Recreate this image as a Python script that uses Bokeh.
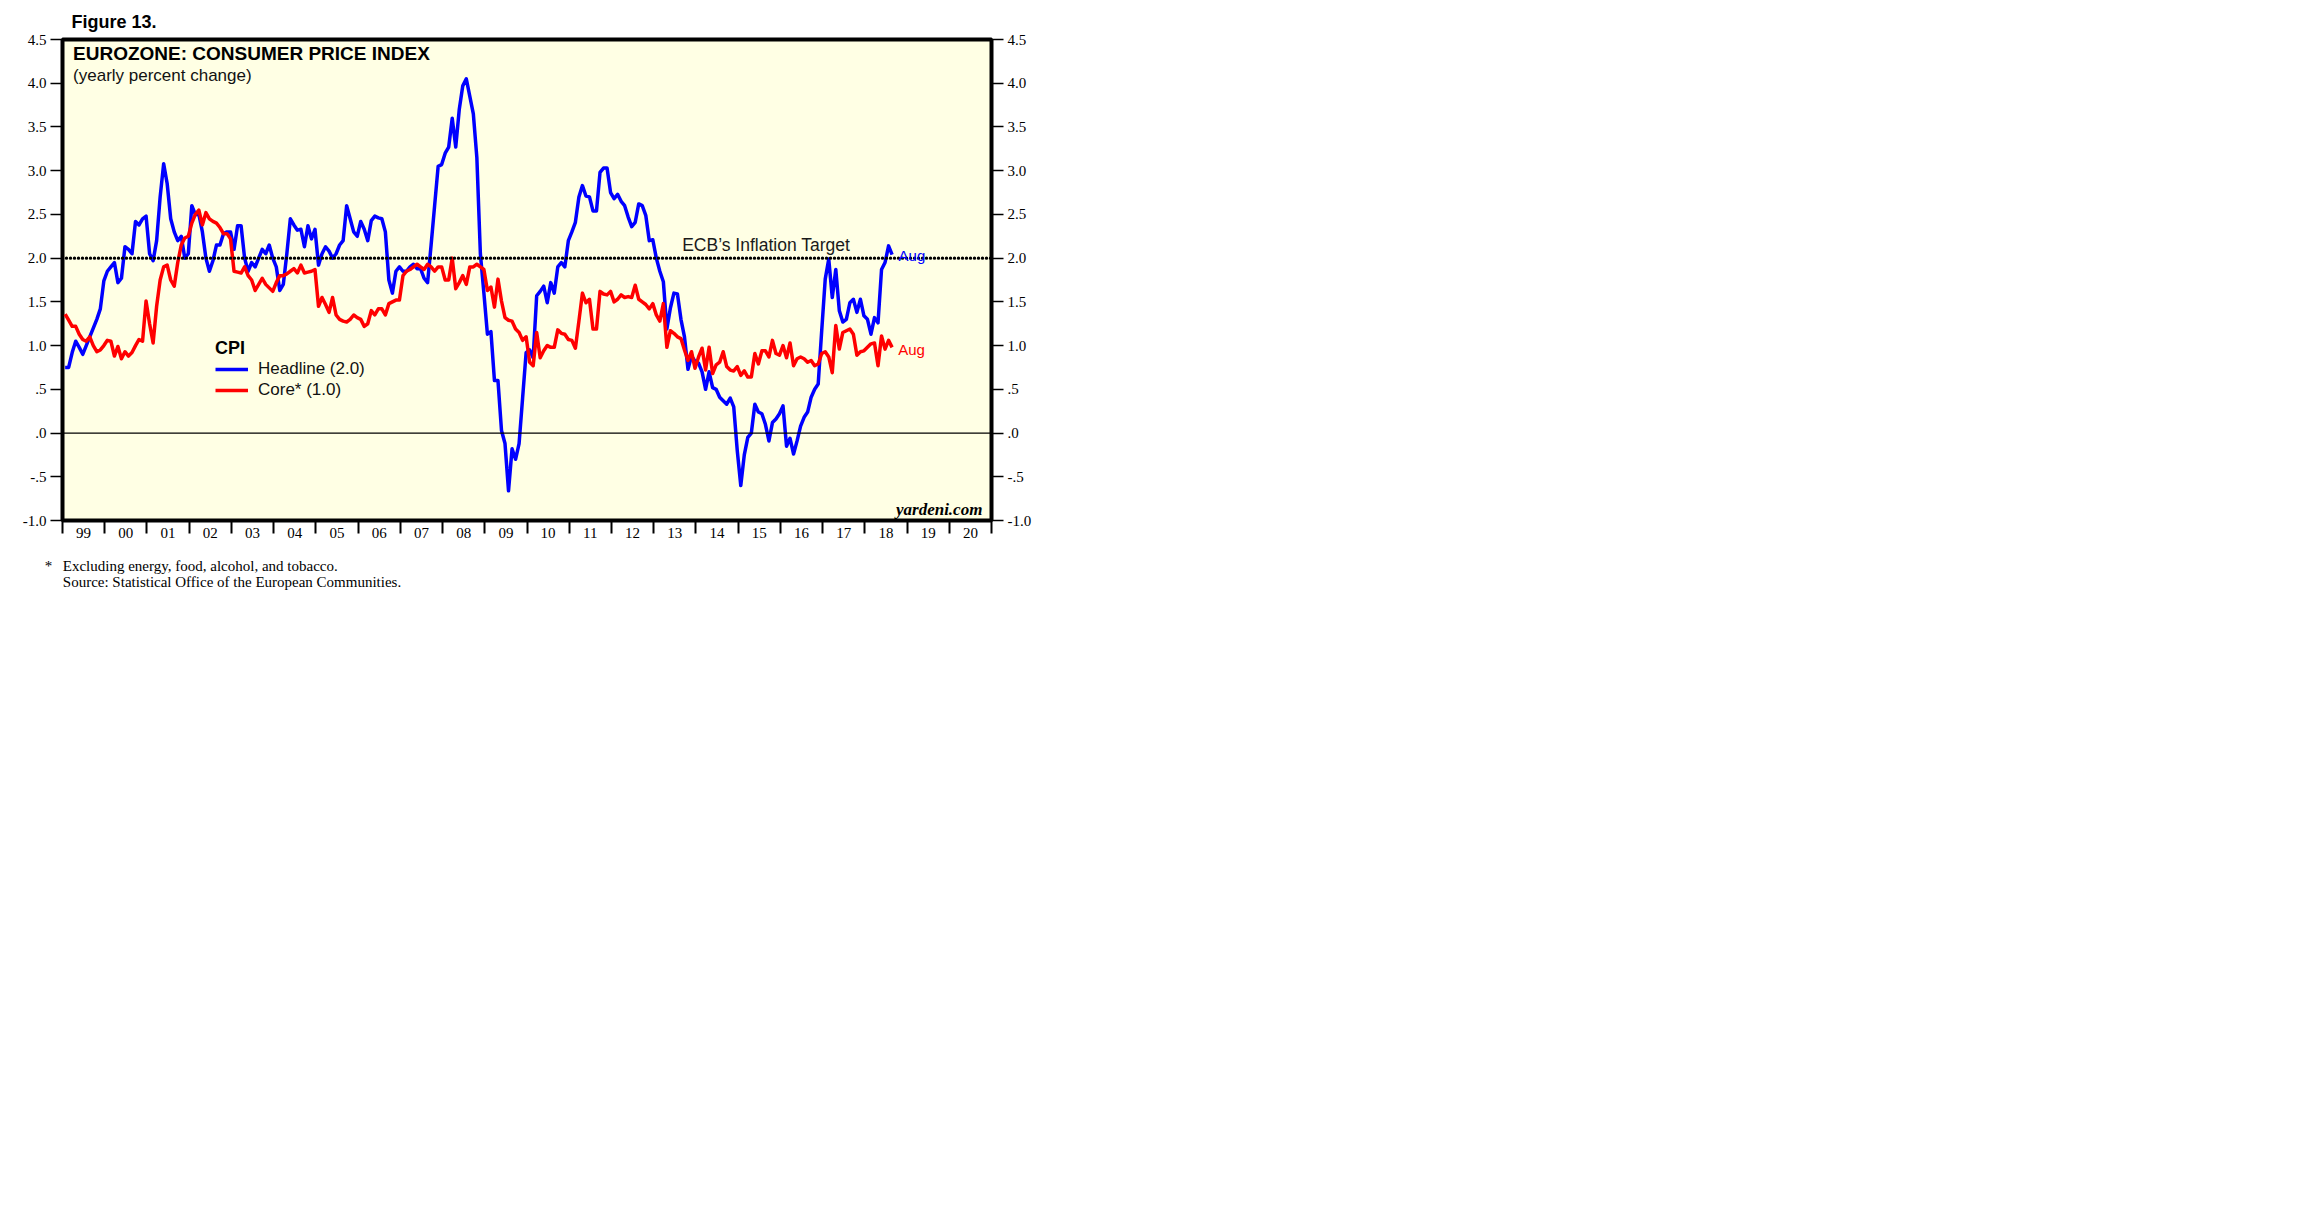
from bokeh.plotting import figure
from bokeh.models import (Range1d, LinearAxis, FixedTicker, Span, Label, Legend,
                          LegendItem, ColumnDataSource, Title)
from bokeh.embed import file_html
from bokeh.resources import INLINE

# ---------------- data (monthly, Jan 1999 - Aug 2018) ----------------
START_YEAR = 1999
HEADLINE = [
    0.75, 0.75, 0.92, 1.05, 0.98, 0.90, 1.00, 1.10, 1.20, 1.30, 1.42, 1.74,   # 1999
    1.85, 1.90, 1.95, 1.72, 1.77, 2.13, 2.10, 2.05, 2.42, 2.38, 2.45, 2.48,   # 2000
    2.05, 1.97, 2.20, 2.70, 3.08, 2.85, 2.45, 2.30, 2.20, 2.25, 2.00, 2.05,   # 2001
    2.60, 2.50, 2.50, 2.30, 2.00, 1.85, 1.97, 2.15, 2.15, 2.28, 2.30, 2.30,   # 2002
    2.10, 2.37, 2.37, 2.00, 1.85, 1.95, 1.90, 2.00, 2.10, 2.05, 2.15, 2.00,   # 2003
    1.90, 1.63, 1.70, 2.05, 2.45, 2.38, 2.32, 2.33, 2.13, 2.37, 2.22, 2.33,   # 2004
    1.92, 2.05, 2.13, 2.08, 2.00, 2.05, 2.15, 2.20, 2.60, 2.45, 2.30, 2.25,   # 2005
    2.42, 2.33, 2.20, 2.43, 2.48, 2.46, 2.45, 2.30, 1.75, 1.60, 1.85, 1.90,   # 2006
    1.85, 1.85, 1.90, 1.93, 1.88, 1.88, 1.77, 1.72, 2.15, 2.60, 3.05, 3.07,   # 2007
    3.20, 3.27, 3.60, 3.27, 3.70, 3.97, 4.05, 3.85, 3.65, 3.15, 2.05, 1.60,   # 2008
    1.13, 1.16, 0.60, 0.60, 0.03, -0.12, -0.66, -0.18, -0.30, -0.12, 0.40, 0.92,  # 2009
    0.95, 0.86, 1.57, 1.62, 1.68, 1.49, 1.72, 1.60, 1.90, 1.95, 1.90, 2.20,   # 2010
    2.30, 2.41, 2.70, 2.83, 2.71, 2.70, 2.54, 2.54, 2.98, 3.03, 3.03, 2.75,   # 2011
    2.68, 2.73, 2.65, 2.60, 2.47, 2.36, 2.41, 2.62, 2.60, 2.49, 2.20, 2.21,   # 2012
    2.00, 1.85, 1.73, 1.19, 1.43, 1.60, 1.59, 1.30, 1.10, 0.73, 0.88, 0.82,   # 2013
    0.80, 0.70, 0.50, 0.70, 0.52, 0.50, 0.41, 0.37, 0.33, 0.40, 0.30, -0.20,  # 2014
    -0.60, -0.25, -0.05, 0.00, 0.33, 0.24, 0.22, 0.10, -0.09, 0.12, 0.16, 0.22,  # 2015
    0.31, -0.15, -0.06, -0.24, -0.09, 0.08, 0.18, 0.24, 0.41, 0.50, 0.56, 1.17,  # 2016
    1.76, 1.99, 1.55, 1.87, 1.40, 1.27, 1.30, 1.49, 1.53, 1.38, 1.53, 1.34,   # 2017
    1.30, 1.13, 1.32, 1.26, 1.87, 1.95, 2.14, 2.04,                           # 2018
]
CORE = [
    1.36, 1.29, 1.22, 1.22, 1.13, 1.07, 1.05, 1.10, 1.00, 0.93, 0.95, 1.00,   # 1999
    1.06, 1.05, 0.88, 0.99, 0.85, 0.93, 0.88, 0.92, 1.00, 1.07, 1.05, 1.51,   # 2000
    1.25, 1.03, 1.45, 1.75, 1.90, 1.92, 1.75, 1.68, 1.95, 2.15, 2.23, 2.25,   # 2001
    2.40, 2.50, 2.55, 2.38, 2.52, 2.45, 2.42, 2.40, 2.35, 2.28, 2.28, 2.22,   # 2002
    1.85, 1.84, 1.83, 1.90, 1.80, 1.75, 1.63, 1.70, 1.77, 1.70, 1.66, 1.62,   # 2003
    1.72, 1.80, 1.80, 1.82, 1.85, 1.88, 1.83, 1.92, 1.83, 1.84, 1.85, 1.87,   # 2004
    1.45, 1.55, 1.47, 1.38, 1.55, 1.35, 1.30, 1.28, 1.27, 1.30, 1.35, 1.32,   # 2005
    1.30, 1.22, 1.25, 1.40, 1.35, 1.42, 1.42, 1.35, 1.48, 1.50, 1.52, 1.52,   # 2006
    1.80, 1.85, 1.87, 1.90, 1.93, 1.90, 1.87, 1.93, 1.90, 1.85, 1.90, 1.90,   # 2007
    1.75, 1.75, 2.00, 1.65, 1.72, 1.80, 1.70, 1.90, 1.90, 1.93, 1.90, 1.87,   # 2008
    1.63, 1.67, 1.44, 1.76, 1.51, 1.32, 1.29, 1.28, 1.19, 1.15, 1.06, 1.10,   # 2009
    0.81, 0.77, 1.15, 0.86, 0.94, 1.00, 0.98, 0.98, 1.18, 1.14, 1.13, 1.07,   # 2010
    1.06, 0.97, 1.28, 1.60, 1.49, 1.53, 1.19, 1.19, 1.62, 1.59, 1.58, 1.62,   # 2011
    1.50, 1.53, 1.58, 1.55, 1.56, 1.55, 1.69, 1.53, 1.50, 1.47, 1.42, 1.48,   # 2012
    1.35, 1.28, 1.48, 0.98, 1.17, 1.14, 1.10, 1.08, 0.95, 0.83, 0.93, 0.74,   # 2013
    0.87, 0.97, 0.72, 0.98, 0.68, 0.78, 0.81, 0.93, 0.76, 0.72, 0.71, 0.76,   # 2014
    0.66, 0.71, 0.64, 0.64, 0.91, 0.79, 0.94, 0.94, 0.87, 1.06, 0.91, 0.89,   # 2015
    1.00, 0.86, 1.03, 0.77, 0.85, 0.87, 0.85, 0.81, 0.83, 0.77, 0.79, 0.91,   # 2016
    0.93, 0.87, 0.69, 1.23, 0.96, 1.15, 1.17, 1.19, 1.13, 0.89, 0.93, 0.94,   # 2017
    0.98, 1.02, 1.03, 0.77, 1.11, 0.96, 1.06, 0.98,                           # 2018
]
YEAR_LABELS = ["99", "00", "01", "02", "03", "04", "05", "06", "07", "08", "09",
               "10", "11", "12", "13", "14", "15", "16", "17", "18", "19", "20"]
Y_TICKS = [-1.0, -0.5, 0.0, 0.5, 1.0, 1.5, 2.0, 2.5, 3.0, 3.5, 4.0, 4.5]
Y_TICK_LABELS = ["-1.0", "-.5", ".0", ".5", "1.0", "1.5", "2.0", "2.5", "3.0", "3.5", "4.0", "4.5"]
ECB_TARGET = 2.0

# ---------------- build ----------------
n = len(HEADLINE)
xs = [START_YEAR + (i + 0.75) / 12.0 for i in range(n)]
src = ColumnDataSource(dict(x=xs, headline=HEADLINE, core=CORE))

x_end = START_YEAR + len(YEAR_LABELS)
p = figure(frame_width=929, frame_height=481,
           x_range=Range1d(START_YEAR, x_end), y_range=Range1d(-1.0, 4.5),
           output_backend="svg", toolbar_location=None,
           min_border_left=62, min_border_top=39, min_border_right=50, min_border_bottom=80,
           background_fill_color="#FFFFE4", border_fill_color="white")
p.grid.visible = False
p.outline_line_color = "black"
p.outline_line_width = 4

SERIF = "Liberation Serif"
SANS = "Liberation Sans"

# x axis: labels at mid-year, ticks at year boundaries
mids = [START_YEAR + i + 0.5 for i in range(len(YEAR_LABELS))]
bounds = [START_YEAR + i for i in range(len(YEAR_LABELS) + 1)]
xa = p.xaxis[0]
xa.ticker = FixedTicker(ticks=mids, minor_ticks=bounds)
xa.major_label_overrides = {m: lab for m, lab in zip(mids, YEAR_LABELS)}
xa.major_tick_out = 0
xa.major_tick_in = 0
xa.minor_tick_out = 13
xa.minor_tick_in = 0
xa.minor_tick_line_width = 2
xa.minor_tick_line_color = "black"
xa.axis_line_color = None
xa.major_label_text_font = SERIF
xa.major_label_text_font_size = "15px"
xa.major_label_text_color = "black"
xa.major_label_standoff = -6

def style_y(ax):
    ax.ticker = FixedTicker(ticks=Y_TICKS, minor_ticks=[])
    ax.major_label_overrides = {t: lab for t, lab in zip(Y_TICKS, Y_TICK_LABELS)}
    ax.major_tick_out = 12
    ax.major_tick_in = 0
    ax.major_tick_line_width = 1.5
    ax.major_tick_line_color = "black"
    ax.minor_tick_out = 0
    ax.minor_tick_in = 0
    ax.axis_line_color = None
    ax.major_label_text_font = SERIF
    ax.major_label_text_font_size = "15px"
    ax.major_label_text_color = "black"
    ax.major_label_standoff = 4

style_y(p.yaxis[0])
ry = LinearAxis()
style_y(ry)
p.add_layout(ry, "right")

# reference lines
p.add_layout(Span(location=0.0, dimension="width", line_color="black", line_width=1.3))
p.add_layout(Span(location=ECB_TARGET, dimension="width", line_color="black",
                  line_width=3.4, line_dash="0 4", line_cap="round"))

# series
r_h = p.line("x", "headline", source=src, line_color="#0000FF", line_width=3.5, line_join="round")
r_c = p.line("x", "core", source=src, line_color="#FF0000", line_width=3.5, line_join="round")

legend = Legend(items=[LegendItem(label="Headline (2.0)", renderers=[r_h]),
                       LegendItem(label="Core* (1.0)", renderers=[r_c])],
                title="CPI", location=(153, 120),
                border_line_color=None, background_fill_alpha=0,
                padding=0, margin=0, spacing=1,
                glyph_width=33, glyph_height=20, label_height=20, label_standoff=10,
                label_text_font=SANS, label_text_font_size="17px", label_text_color="#111111",
                title_text_font=SANS, title_text_font_size="18px", title_text_font_style="bold",
                title_text_color="black", title_standoff=0)
p.add_layout(legend)

def lab(x, y, text, size, font=SANS, style="normal", color="black", align="left"):
    p.add_layout(Label(x=x, y=y, text=text, text_font=font, text_font_size=size,
                       text_font_style=style, text_color=color, text_align=align,
                       text_baseline="middle"))

lab(1999.25, 4.34, "EUROZONE: CONSUMER PRICE INDEX", "19px", style="bold")
lab(1999.25, 4.088, "(yearly percent change)", "17px", color="#111111")
lab(2013.675, 2.155, "ECB\u2019s Inflation Target", "17.5px", color="#1a1a1a")
lab(2018.80, 2.025, "Aug", "15px", color="#0000FF")
lab(2018.79, 0.953, "Aug", "15px", color="#FF0000")
lab(2020.784, -0.875, "yardeni.com", "17px", font=SERIF, style="bold italic", align="right")

# texts outside the frame: titles
p.add_layout(Title(text="Figure 13.", align="left", offset=9, standoff=15,
                   text_font=SANS, text_font_size="18px", text_font_style="bold",
                   text_color="black"), "above")
FOOTNOTE = ("*\u2002\u2009Excluding energy, food, alcohol, and tobacco.\n"
            "\u2002\u2002\u2009Source: Statistical Office of the European Communities.")
p.add_layout(Title(text=FOOTNOTE, align="left", offset=-17.7, standoff=30,
                   text_font=SERIF, text_font_size="15px", text_font_style="normal",
                   text_color="black", text_line_height=1.0), "below")

open("out.html", "w").write(file_html(p, INLINE))
